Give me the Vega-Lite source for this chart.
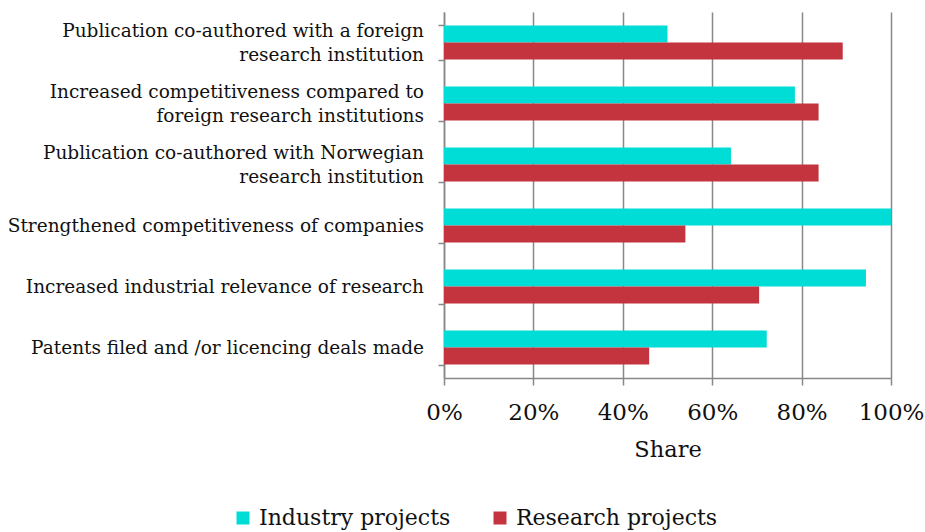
{
  "$schema": "https://vega.github.io/schema/vega-lite/v6.json",
  "autosize": {"type": "none"},
  "width": 447,
  "height": 366,
  "padding": {"left": 444, "top": 12, "right": 34, "bottom": 154},
  "background": "white",
  "config": {
    "view": {"stroke": null},
    "font": "DejaVu Serif"
  },
  "data": {
    "values": [
      {"category": "Publication co-authored with a foreign|research institution", "group": "Industry projects", "value": 0.50},
      {"category": "Publication co-authored with a foreign|research institution", "group": "Research projects", "value": 0.892},
      {"category": "Increased competitiveness compared to|foreign research institutions", "group": "Industry projects", "value": 0.785},
      {"category": "Increased competitiveness compared to|foreign research institutions", "group": "Research projects", "value": 0.838},
      {"category": "Publication co-authored with Norwegian|research institution", "group": "Industry projects", "value": 0.642},
      {"category": "Publication co-authored with Norwegian|research institution", "group": "Research projects", "value": 0.838},
      {"category": "Strengthened competitiveness of companies", "group": "Industry projects", "value": 1.0},
      {"category": "Strengthened competitiveness of companies", "group": "Research projects", "value": 0.54},
      {"category": "Increased industrial relevance of research", "group": "Industry projects", "value": 0.944},
      {"category": "Increased industrial relevance of research", "group": "Research projects", "value": 0.705},
      {"category": "Patents filed and /or licencing deals made", "group": "Industry projects", "value": 0.722},
      {"category": "Patents filed and /or licencing deals made", "group": "Research projects", "value": 0.459}
    ]
  },
  "layer": [
    {
      "mark": {"type": "bar"},
      "encoding": {
        "y": {
          "field": "category",
          "type": "nominal",
          "sort": null,
          "scale": {"paddingInner": 0.44, "paddingOuter": 0.22},
          "axis": {
            "title": null,
            "labels": false,
            "tickBand": "extent",
            "tickSize": 6,
            "tickColor": "#888",
            "tickWidth": 1.5,
            "domainColor": "#888",
            "domainWidth": 1.5,
            "grid": false
          }
        },
        "yOffset": {
          "field": "group",
          "type": "nominal",
          "sort": ["Industry projects", "Research projects"]
        },
        "x": {
          "field": "value",
          "type": "quantitative",
          "scale": {"domain": [0, 1], "nice": false},
          "axis": {
            "title": "Share",
            "titleFontSize": 22.5,
            "titleFontWeight": "normal",
            "titleColor": "#111",
            "titlePadding": 14,
            "format": ".0%",
            "values": [0, 0.2, 0.4, 0.6, 0.8, 1.0],
            "labelFontSize": 23,
            "labelColor": "#111",
            "labelPadding": 16,
            "labelFlush": false,
            "tickSize": 7,
            "tickColor": "#888",
            "tickWidth": 1.5,
            "domainColor": "#888",
            "domainWidth": 1.5,
            "grid": true,
            "gridColor": "#888",
            "gridWidth": 1.5
          }
        },
        "color": {
          "field": "group",
          "type": "nominal",
          "scale": {"domain": ["Industry projects", "Research projects"], "range": ["#00DDD6", "#C4343F"]},
          "legend": {
            "title": null,
            "orient": "none",
            "direction": "horizontal",
            "legendX": -212,
            "legendY": 495,
            "symbolType": "square",
            "symbolSize": 169,
            "symbolStrokeWidth": 0,
            "labelFontSize": 22,
            "labelLimit": 400,
            "labelColor": "#111",
            "labelOffset": 5,
            "columnPadding": 38
          }
        }
      }
    },
    {
      "transform": [{"filter": "datum.group === 'Industry projects' && indexof(datum.category, '|') >= 0"}],
      "mark": {"type": "text", "align": "right", "baseline": "middle", "dx": -20, "dy": -12, "lineBreak": "|", "lineHeight": 24, "fontSize": 18.5, "color": "#111"},
      "encoding": {
        "y": {"field": "category", "type": "nominal", "sort": null},
        "x": {"datum": 0, "type": "quantitative"},
        "text": {"field": "category"}
      }
    },
    {
      "transform": [{"filter": "datum.group === 'Industry projects' && indexof(datum.category, '|') < 0"}],
      "mark": {"type": "text", "align": "right", "baseline": "middle", "dx": -20, "fontSize": 18.5, "color": "#111"},
      "encoding": {
        "y": {"field": "category", "type": "nominal", "sort": null},
        "x": {"datum": 0, "type": "quantitative"},
        "text": {"field": "category"}
      }
    }
  ]
}
